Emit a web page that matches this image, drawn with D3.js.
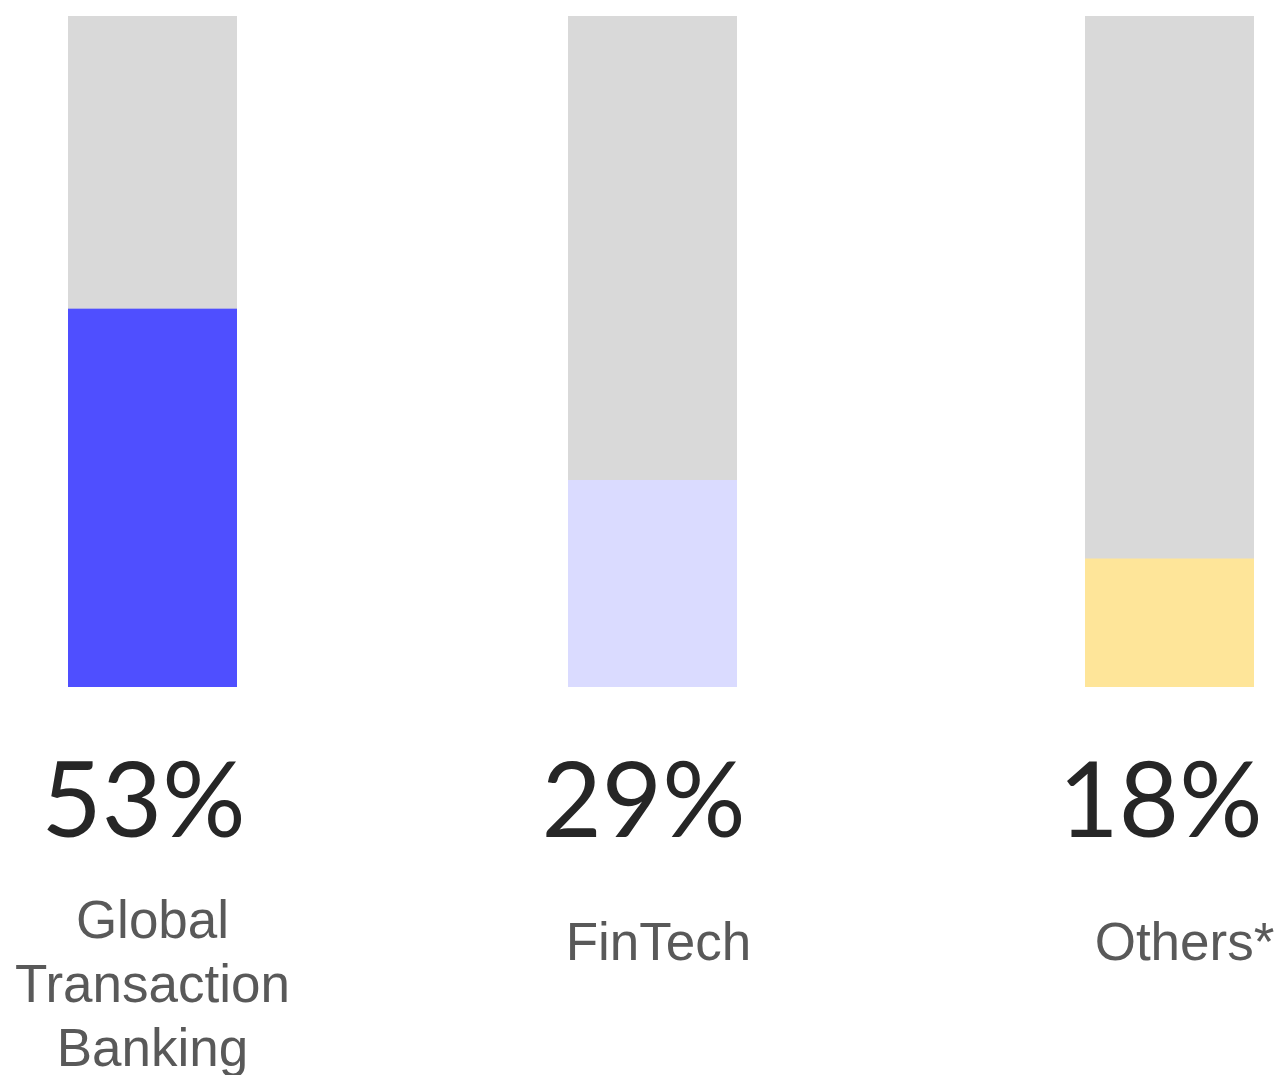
<!DOCTYPE html>
<html>
<head>
<meta charset="utf-8">
<script src="https://cdn.jsdelivr.net/npm/d3@7"></script>
<style>
  html, body { margin: 0; padding: 0; background: #ffffff; }
  svg { display: block; }
</style>
</head>
<body>
<script>
// Share by segment
const categories = [["Global", "Transaction", "Banking"], ["FinTech"], ["Others*"]];
const shares = [53, 29, 18];
const fills = ["#4f4fff", "#dadbff", "#fee599"];
const trackMax = 94;

const W = 1276, H = 1075;
const plotTop = 16, plotBottom = 687;
const barW = 169;
const barX = [68, 568, 1085];

const svg = d3.select("body").append("svg").attr("width", W).attr("height", H);

const y = d3.scaleLinear().domain([0, trackMax]).range([plotBottom, plotTop]);

const g = svg.selectAll("g.bar")
  .data(shares.map((v, i) => ({ v, i, cat: categories[i] })))
  .join("g")
  .attr("class", "bar")
  .attr("transform", d => `translate(${barX[d.i]},0)`);

// grey track
g.append("rect")
  .attr("x", 0).attr("width", barW)
  .attr("y", y(trackMax)).attr("height", y(0) - y(trackMax))
  .attr("fill", "#d9d9d9");

// filled share
g.append("rect")
  .attr("x", 0).attr("width", barW)
  .attr("y", d => y(d.v)).attr("height", d => y(0) - y(d.v))
  .attr("fill", d => fills[d.i]);

// percentage value
g.append("text")
  .attr("x", barW / 2 - 9)
  .attr("y", 837)
  .attr("text-anchor", "middle")
  .style("font-family", "Lato, 'Open Sans', sans-serif")
  .style("font-size", "104px")
  .attr("fill", "#262626")
  .text(d => d.v + "%");

// category name
const labelShift = [0, 6, 15];
g.append("text")
  .attr("text-anchor", "middle")
  .style("font-family", "'Liberation Sans', Arial, sans-serif")
  .style("font-size", "53px")
  .attr("fill", "#595959")
  .attr("y", d => d.cat.length > 1 ? 938 : 960)
  .selectAll("tspan")
  .data(d => d.cat.map((t, k) => ({ t, k, i: d.i })))
  .join("tspan")
  .attr("x", d => barW / 2 + labelShift[d.i])
  .attr("dy", d => d.k === 0 ? 0 : 64)
  .text(d => d.t);
</script>
</body>
</html>
